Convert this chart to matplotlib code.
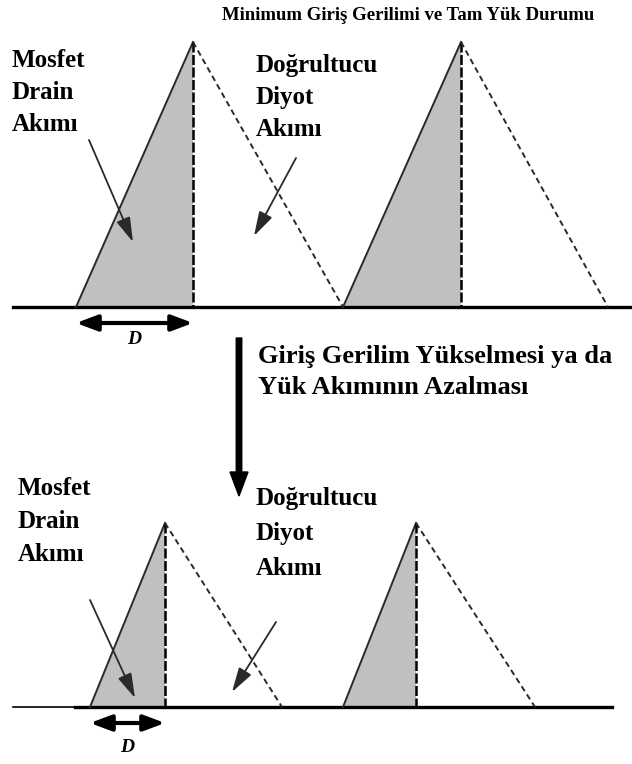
import matplotlib
matplotlib.use("Agg")
import matplotlib.pyplot as plt
from matplotlib.patches import Polygon

plt.rcParams['font.family'] = ['Liberation Serif', 'DejaVu Serif']

# triangle geometry (pixel units, y grows downward)
top_base_y = 307
top_peak_y = 42
top_rise = [76, 343]
top_peak = [193, 461]
top_fall = [343, 608]

bot_base_y = 707
bot_peak_y = 523
bot_rise = [90, 343]
bot_peak = [165, 416]
bot_fall = [282, 535]

title = "Minimum Giriş Gerilimi ve Tam Yük Durumu"
mosfet_lines = ["Mosfet", "Drain", "Akımı"]
diyot_lines = ["Doğrultucu", "Diyot", "Akımı"]
change_lines = ["Giriş Gerilim Yükselmesi ya da", "Yük Akımının Azalması"]

fill_col = "#c0c0c0"
line_col = "#2a2a2a"

fig = plt.figure(figsize=(6.32, 7.64), dpi=100)
ax = fig.add_axes([0, 0, 1, 1])
ax.set_xlim(0, 632)
ax.set_ylim(764, 0)
ax.axis("off")


def draw_panel(rise, peak, fall, base_y, peak_y):
    for x0, xp, x1 in zip(rise, peak, fall):
        ax.add_patch(Polygon([(x0, base_y), (xp, peak_y), (xp, base_y)],
                             closed=True, facecolor=fill_col, edgecolor="none"))
        ax.plot([x0, xp], [base_y, peak_y], color=line_col, lw=1.4)
        ax.plot([xp, xp], [peak_y, base_y], color="black", lw=1.8,
                dashes=(4, 1))
        ax.plot([xp, x1], [peak_y, base_y], color=line_col, lw=1.4,
                dashes=(3, 2))


def label_block(x, y0, lines, step, size=18):
    for i, s in enumerate(lines):
        ax.text(x, y0 + i * step, s, fontsize=size, fontweight="bold",
                va="baseline", ha="left")


def thin_arrow(x0, y0, x1, y1):
    ax.annotate("", xy=(x1, y1), xytext=(x0, y0),
                arrowprops=dict(arrowstyle="-|>,head_length=0.75,head_width=0.22",
                                color=line_col, lw=1.3, shrinkA=0, shrinkB=0,
                                mutation_scale=20))


def d_arrow(x0, x1, y, ylab):
    ax.annotate("", xy=(x1, y), xytext=(x0, y),
                arrowprops=dict(arrowstyle="<|-|>,head_length=0.8,head_width=0.3",
                                color="black", lw=3, shrinkA=0, shrinkB=0,
                                mutation_scale=16))
    ax.text((x0 + x1) / 2, ylab, "D", fontsize=14, style="italic",
            fontweight="bold", ha="center", va="center")


# title
ax.text(408, 20, title, fontsize=13.5, fontweight="bold",
        ha="center", va="baseline")

# top panel
ax.plot([13, 632], [top_base_y, top_base_y], color="black", lw=2.4)
draw_panel(top_rise, top_peak, top_fall, top_base_y, top_peak_y)
label_block(12, 67, mosfet_lines, 32)
label_block(256, 72, diyot_lines, 32)
thin_arrow(89, 140, 133, 242)
thin_arrow(296, 158, 254, 236)
d_arrow(top_rise[0], top_peak[0], 323, 340)

# transition arrow and text
ax.arrow(239, 338, 0, 134, width=5.5, head_width=18, head_length=24,
         length_includes_head=False, color="black")
label_block(258, 363, change_lines, 31, size=19)

# bottom panel
ax.plot([13, 75], [bot_base_y, bot_base_y], color="black", lw=1.2)
ax.plot([75, 612], [bot_base_y, bot_base_y], color="black", lw=2.4)
draw_panel(bot_rise, bot_peak, bot_fall, bot_base_y, bot_peak_y)
label_block(18, 495, mosfet_lines, 33)
label_block(256, 505, diyot_lines, 35)
thin_arrow(90, 600, 135, 698)
thin_arrow(276, 622, 232, 692)
d_arrow(bot_rise[0], bot_peak[0], 723, 747)

fig.savefig("out.png", dpi=100)
